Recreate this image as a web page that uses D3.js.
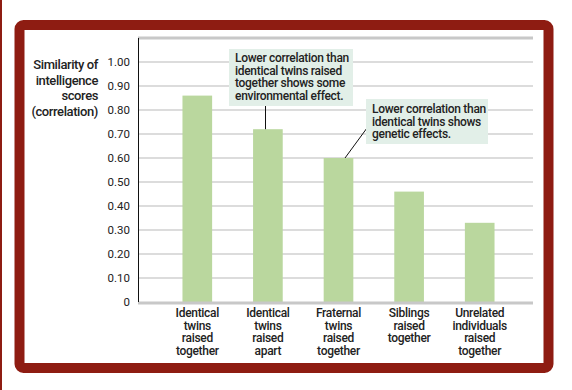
<!DOCTYPE html>
<html>
<head>
<meta charset="utf-8">
<script src="https://cdn.jsdelivr.net/npm/d3@7"></script>
<style>
  body { margin: 0; background: white; }
  text { font-family: Roboto, "Noto Sans", sans-serif; fill: #222; }
</style>
</head>
<body>
<div id="canvas"></div>
<script>
"use strict"

// data
let groups = [
    ["Identical", "twins", "raised", "together"],
    ["Identical", "twins", "raised", "apart"],
    ["Fraternal", "twins", "raised", "together"],
    ["Siblings", "raised", "together"],
    ["Unrelated", "individuals", "raised", "together"]
];
let correlations = [0.86, 0.72, 0.60, 0.46, 0.33];
let tickValues = [0, 0.1, 0.2, 0.3, 0.4, 0.5, 0.6, 0.7, 0.8, 0.9, 1.0];
let yTitle = ["Similarity of", "intelligence", "scores", "(correlation)"];
let note1 = ["Lower correlation than", "identical twins raised", "together shows some", "environmental effect."];
let note2 = ["Lower correlation than", "identical twins shows", "genetic effects."];

let drawing = d3.select("#canvas")
    .append("svg")
    .attr("width", 572)
    .attr("height", 390);

// thin strip on the far left edge
drawing.append("rect")
    .attr("x", 0).attr("y", 0)
    .attr("width", 2).attr("height", 390)
    .attr("fill", "#8e1c12");

// dark red frame
let frame = drawing.append("rect")
    .attr("x", 19.5)
    .attr("y", 25)
    .attr("width", 529)
    .attr("height", 343)
    .attr("rx", 4)
    .attr("fill", "white")
    .attr("stroke", "#8e1c12")
    .attr("stroke-width", 10);

let x = d3.scaleBand()
    .domain(d3.range(groups.length))
    .range([162, 515])
    .paddingInner(0.58)
    .paddingOuter(0.29);

let y = d3.scaleLinear()
    .domain([0, 1.1])
    .range([302, 38]);

let left = 138, right = 533;

// gridlines
drawing.append("g")
    .selectAll("line")
    .data(tickValues.filter(d => d > 0))
    .join("line")
    .attr("x1", left).attr("x2", right)
    .attr("y1", d => y(d)).attr("y2", d => y(d))
    .attr("stroke", "#dcdcdc")
    .attr("stroke-width", 2);

// top grey rule
drawing.append("line")
    .attr("x1", left).attr("x2", right)
    .attr("y1", y(1.1)).attr("y2", y(1.1))
    .attr("stroke", "#c8c8c8")
    .attr("stroke-width", 3);

// bars
drawing.append("g")
    .selectAll("rect")
    .data(correlations)
    .join("rect")
    .attr("x", (d, i) => x(i))
    .attr("y", d => y(d))
    .attr("width", x.bandwidth())
    .attr("height", d => y(0) - y(d))
    .attr("fill", "#bad79e");

// baseline
drawing.append("line")
    .attr("x1", left).attr("x2", right)
    .attr("y1", y(0) + 1).attr("y2", y(0) + 1)
    .attr("stroke", "#c8c8c8")
    .attr("stroke-width", 3);

// y axis
let yAxis = d3.axisLeft(y)
    .tickValues(tickValues)
    .tickSize(0)
    .tickPadding(8)
    .tickFormat(d => d === 0 ? "0" : d3.format(".2f")(d));

let yAxisG = drawing.append("g")
    .attr("transform", `translate(${left},0)`)
    .call(yAxis);
yAxisG.select(".domain").remove();
yAxisG.selectAll("text")
    .style("font-family", null)
    .attr("font-size", 11.5)
    .attr("fill", "#222");

drawing.append("line")
    .attr("x1", left + 0.5).attr("x2", left + 0.5)
    .attr("y1", y(1.1)).attr("y2", y(0))
    .attr("stroke", "#111")
    .attr("stroke-width", 1);

// y title
let yTitleText = drawing.append("text")
    .attr("text-anchor", "end")
    .attr("font-size", 13)
    .attr("font-weight", 500)
    .attr("letter-spacing", -0.4);
yTitleText.selectAll("tspan")
    .data(yTitle)
    .join("tspan")
    .attr("x", 98)
    .attr("y", (d, i) => 69 + i * 15.5)
    .text(d => d);

// category labels
drawing.append("g")
    .selectAll("text")
    .data(groups)
    .join("text")
    .attr("text-anchor", "middle")
    .attr("font-size", 12)
    .attr("font-weight", 500)
    .attr("letter-spacing", -0.3)
    .each(function(lines, i) {
        d3.select(this).selectAll("tspan")
            .data(lines)
            .join("tspan")
            .attr("x", x(i) + x.bandwidth() / 2)
            .attr("y", (d, k) => 317 + k * 12.6)
            .text(d => d);
    });

// annotation 1
drawing.append("line")
    .attr("x1", 265.5).attr("x2", 265.5)
    .attr("y1", 106).attr("y2", y(correlations[1]))
    .attr("stroke", "#111");

drawing.append("rect")
    .attr("x", 229).attr("y", 49)
    .attr("width", 124).attr("height", 57)
    .attr("fill", "#e2efe8");

let note1Text = drawing.append("text")
    .attr("font-size", 12)
    .attr("font-weight", 500)
    .attr("letter-spacing", -0.3);
note1Text.selectAll("tspan")
    .data(note1)
    .join("tspan")
    .attr("x", 235)
    .attr("y", (d, i) => 62 + i * 12.6)
    .text(d => d);

// annotation 2
drawing.append("line")
    .attr("x1", 367).attr("y1", 128)
    .attr("x2", 345).attr("y2", y(correlations[2]))
    .attr("stroke", "#111");

drawing.append("rect")
    .attr("x", 366).attr("y", 99)
    .attr("width", 122).attr("height", 45)
    .attr("fill", "#e2efe8");

let note2Text = drawing.append("text")
    .attr("font-size", 12)
    .attr("font-weight", 500)
    .attr("letter-spacing", -0.3);
note2Text.selectAll("tspan")
    .data(note2)
    .join("tspan")
    .attr("x", 372)
    .attr("y", (d, i) => 113 + i * 12.6)
    .text(d => d);
</script>
</body>
</html>
